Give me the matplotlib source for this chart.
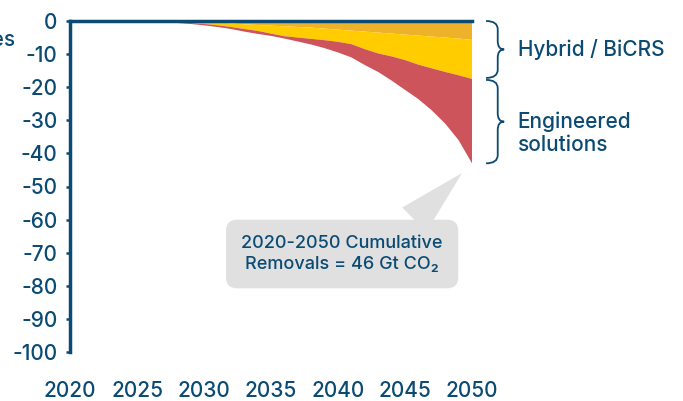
import matplotlib.pyplot as plt
import matplotlib.transforms as mtransforms
from matplotlib.path import Path
from matplotlib.patches import PathPatch
import numpy as np

plt.rcParams['font.family'] = ['Inter', 'DejaVu Sans']
plt.rcParams['font.weight'] = 500

# data (annual removals)
years = list(range(2020, 2051))
nature = [0] * 7 + [0.05, 0.1, 0.2, 0.3, 0.5, 0.7, 1.0, 1.2, 1.4, 1.6, 1.8, 2.0,
                    2.3, 2.6, 2.9, 3.2, 3.5, 3.8, 4.1, 4.4, 4.7, 5.0, 5.3, 5.7]
hybrid = [0] * 7 + [0.05, 0.2, 0.4, 0.6, 0.8, 1.1, 1.4, 1.8, 2.4, 3.0, 3.2, 3.4,
                    3.5, 3.7, 4.1, 5.3, 6.3, 6.9, 7.7, 8.8, 9.6, 10.4, 11.1, 11.8]
engineered = [0] * 6 + [0.05, 0.2, 0.3, 0.3, 0.4, 0.5, 0.6, 0.8, 0.9, 0.7, 0.7,
                        1.2, 1.7, 2.4, 3.2, 4.0, 4.8, 5.6, 7.3, 9.0, 10.4, 12.7,
                        15.6, 19.6, 25.5]

BLUE = '#0B4A73'
colors = ['#EDB12A', '#FFCC00', '#CD545B']

fig = plt.figure(figsize=(6.83, 4.01), dpi=100)
ax = fig.add_axes([70 / 683, 1 - 352 / 401, 402 / 683, 331 / 401])

ax.stackplot(years, -np.array(nature), -np.array(hybrid), -np.array(engineered),
             colors=colors, lw=0)

ax.set_xlim(2020, 2050)
ax.set_ylim(-100, 0)
ax.spines['right'].set_visible(False)
ax.spines['bottom'].set_visible(False)
ax.spines['top'].set_color(BLUE)
ax.spines['top'].set_linewidth(2.5)
ax.spines['left'].set_color(BLUE)
ax.spines['left'].set_linewidth(2.5)

yt = list(range(-100, 1, 10))
ax.set_yticks(yt)
ax.set_yticklabels([str(v) for v in yt])
ax.tick_params(axis='y', length=3, width=1.8, pad=6, colors=BLUE, labelsize=15)
xt = list(range(2020, 2051, 5))
ax.set_xticks(xt)
ax.set_xticklabels([str(v) for v in xt])
ax.tick_params(axis='x', length=0, pad=21, colors=BLUE, labelsize=15)

fig.text(15 / 683, 1 - 40 / 401, 'Removal rates', ha='right', va='center',
         fontsize=15, color=BLUE)

# braces on the right
trans = mtransforms.blended_transform_factory(ax.transAxes, ax.transData)


def brace(y_top, y_bot, x0=1.035, x1=1.064, xt=1.08, r=2.5):
    ym = (y_top + y_bot) / 2
    verts = [(x0, y_top), (x1, y_top), (x1, y_top - r),
             (x1, ym + r), (x1, ym), (xt, ym),
             (x1, ym), (x1, ym - r),
             (x1, y_bot + r), (x1, y_bot), (x0, y_bot)]
    codes = [Path.MOVETO, Path.CURVE3, Path.CURVE3,
             Path.LINETO, Path.CURVE3, Path.CURVE3,
             Path.CURVE3, Path.CURVE3,
             Path.LINETO, Path.CURVE3, Path.CURVE3]
    ax.add_patch(PathPatch(Path(verts, codes), transform=trans, fc='none',
                           ec=BLUE, lw=1.3, clip_on=False))
    return ym


top_mid = nature[-1] + hybrid[-1]
total = top_mid + engineered[-1]
ym1 = brace(0, -top_mid + 0.3)
ym2 = brace(-top_mid - 0.3, -total)
ax.text(1.114, ym1, 'Hybrid / BiCRS', transform=trans, ha='left', va='center',
        fontsize=15, color=BLUE)
ax.text(1.114, ym2 - 3.5, 'Engineered\nsolutions', transform=trans, ha='left',
        va='center', fontsize=15, color=BLUE, linespacing=1.15)

# callout
ax.annotate('2020-2050 Cumulative\nRemovals = 46 Gt CO\u2082',
            xy=(2050, -total), xytext=(0.677, 0.296), textcoords='axes fraction',
            ha='center', va='center', fontsize=13, color=BLUE, linespacing=1.3,
            bbox=dict(boxstyle='round,pad=0.85,rounding_size=0.6', fc='#E0E0E0', ec='none'),
            arrowprops=dict(arrowstyle='wedge,tail_width=1.9,shrink_factor=0.5',
                            fc='#E0E0E0', ec='none', relpos=(0.78, 1.0),
                            shrinkA=0, shrinkB=10),
            annotation_clip=False)

fig.savefig('out.png', dpi=100)
